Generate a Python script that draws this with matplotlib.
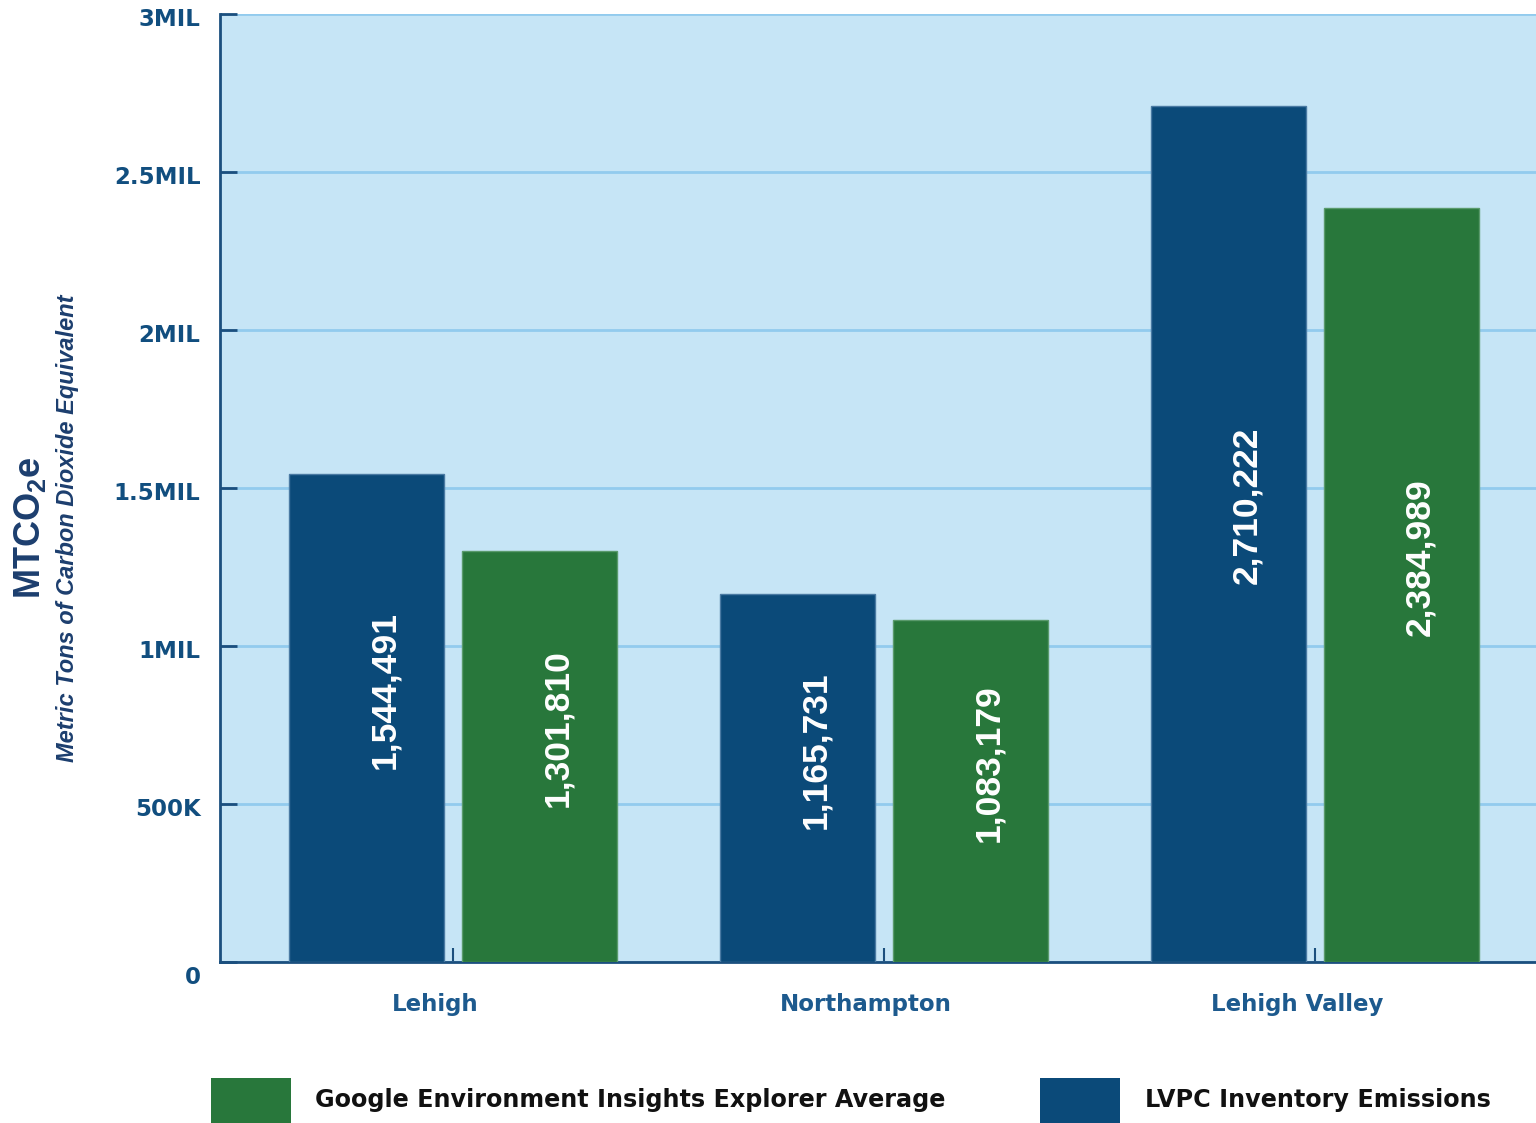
import matplotlib
matplotlib.use("Agg")
import matplotlib.pyplot as plt
import matplotlib.transforms as mtransforms
from matplotlib.patches import Rectangle
import numpy as np

plt.rcParams['font.family'] = ['Liberation Sans', 'DejaVu Sans']
plt.rcParams['mathtext.fontset'] = 'custom'
plt.rcParams['mathtext.rm'] = 'Liberation Sans'
plt.rcParams['mathtext.bf'] = 'Liberation Sans:bold'

# data
regions = ["Lehigh", "Northampton", "Lehigh Valley"]
lvpc = [1544491, 1165731, 2710222]
google = [1301810, 1083179, 2384989]
yticks = [0, 500000, 1000000, 1500000, 2000000, 2500000, 3000000]
ytick_labels = ["0", "500K", "1MIL", "1.5MIL", "2MIL", "2.5MIL", "3MIL"]
legend_names = ["Google Environment Insights Explorer Average", "LVPC Inventory Emissions"]

BLUE = "#0b4a79"
GREEN = "#28773b"
BG = "#c6e5f6"
GRID = "#92cbee"
AXIS = "#1b4f7e"
TICKTXT = "#114e7f"
WIDE = "DejaVu Sans"  # horizontal text in the source is wide

fig = plt.figure(figsize=(15.36, 11.23), dpi=100)
ax = fig.add_axes([220 / 1536, 1 - 962 / 1123, 1 - 220 / 1536, (962 - 14) / 1123])
ax.set_facecolor(BG)

x = np.arange(len(regions))
w = 155 / 431
off = 86.5 / 431

ax.bar(x - off, lvpc, w, color=BLUE, edgecolor="#4a7aa3", linewidth=1, zorder=3)
ax.bar(x + off, google, w, color=GREEN, edgecolor="#5a9a6c", linewidth=1, zorder=3)

ax.set_xlim(-233 / 431, 2 + 221 / 431)
ax.set_ylim(0, 3000000)

# value labels inside bars
lbl_tr = mtransforms.offset_copy(ax.transData, fig=fig, x=18, y=28, units='dots')
for xs, vals in ((x - off, lvpc), (x + off, google)):
    for xi, v in zip(xs, vals):
        ax.text(xi, v / 2, f"{v:,}", transform=lbl_tr, rotation=90, ha="center",
                va="center", color="white", fontsize=25.5, fontweight="bold", zorder=4)

# grid
ax.set_yticks(yticks)
ax.set_yticklabels(ytick_labels)
ax.yaxis.grid(True, color=GRID, linewidth=2, zorder=1)
ax.set_axisbelow(True)

for s in ("top", "right"):
    ax.spines[s].set_visible(False)
for s in ("left", "bottom"):
    ax.spines[s].set_color(AXIS)
    ax.spines[s].set_linewidth(2)

ax.tick_params(axis="y", direction="in", length=12, width=2, color=AXIS, pad=14,
               labelsize=16.5, labelcolor=TICKTXT)
ax.tick_params(axis="x", direction="in", length=10, width=1.5, color=AXIS, pad=22,
               labelsize=16.5, labelcolor="#1d5a8e")
for lab in ax.get_yticklabels():
    lab.set_fontweight("bold")
    lab.set_family(WIDE)
    dy = -13 if lab.get_text() == "0" else -3
    lab.set_transform(lab.get_transform() + mtransforms.ScaledTranslation(0, dy / 100, fig.dpi_scale_trans))

ax.set_xticks(x)
ax.set_xticklabels(regions, fontweight="bold", family=WIDE)
for lab in ax.get_xticklabels():
    lab.set_transform(lab.get_transform() + mtransforms.ScaledTranslation(-18 / 100, 0, fig.dpi_scale_trans))

# axis title
fig.text(30 / 1536, 1 - 528 / 1123, r"$\mathbf{MTCO_2e}$", rotation=90, ha="center",
         va="center", fontsize=26, color="#1c3e6e")
fig.text(68 / 1536, 1 - 528 / 1123, "Metric Tons of Carbon Dioxide Equivalent",
         rotation=90, ha="center", va="center", fontsize=17, fontstyle="italic",
         fontweight="bold", color="#1c3e6e")

# legend
for (bx, tx), name, col in zip(((211, 315), (1040, 1145)), legend_names, (GREEN, BLUE)):
    fig.add_artist(Rectangle((bx / 1536, 0), 80 / 1536, 45 / 1123, transform=fig.transFigure,
                             facecolor=col, edgecolor="none"))
    fig.text(tx / 1536, 1 - 1100 / 1123, name, ha="left", va="center", fontsize=17.2,
             fontweight="bold", family=WIDE, color="#111111")

fig.savefig("out.png", dpi=100)
